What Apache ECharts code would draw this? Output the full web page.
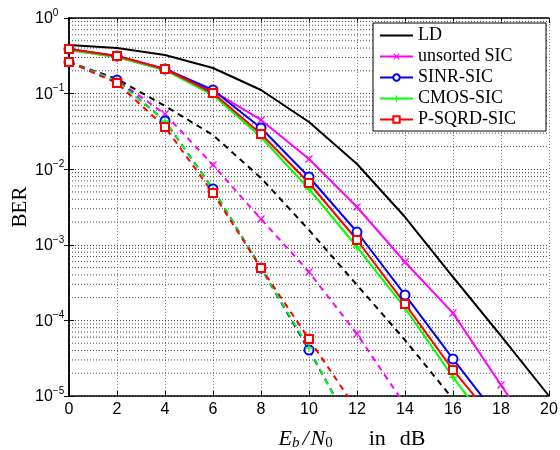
<!DOCTYPE html>
<html><head><meta charset="utf-8">
<script src="https://cdn.jsdelivr.net/npm/echarts@6/dist/echarts.min.js"></script>
<style>html,body{margin:0;padding:0;background:#fff}#c{width:560px;height:450px}</style>
</head><body><div id="c"></div>
<script>
// ---- data ----
const ebn0 = [0, 2, 4, 6, 8, 10, 12, 14, 16, 18, 20];
const xTicks = [0, 2, 4, 6, 8, 10, 12, 14, 16, 18, 20];
const yDecades = [1e-5, 1e-4, 1e-3, 1e-2, 1e-1, 1];
const legendNames = ['LD', 'unsorted SIC', 'SINR-SIC', 'CMOS-SIC', 'P-SQRD-SIC'];
// solid curves
const ldSolid       = [0.439, 0.401, 0.324, 0.218, 0.1116, 0.0421, 0.01172, 0.00233, 3.75e-4, 6.22e-5, 1.0e-5];
const unsortedSolid = [0.3775, 0.305, 0.205, 0.1082, 0.0448, 0.01365, 0.00316, 5.92e-4, 1.25e-4, 1.40e-5, 1.56e-6];
const sinrSolid     = [0.389, 0.314, 0.2115, 0.1116, 0.0351, 0.00788, 0.001476, 2.17e-4, 3.09e-5, 4.67e-6];
const cmosSolid     = [0.3775, 0.305, 0.205, 0.0958, 0.0267, 0.00547, 9.35e-4, 1.46e-4, 1.78e-5, 2.54e-6];
const psqrdSolid    = [0.389, 0.314, 0.2115, 0.1019, 0.0292, 0.00657, 0.001157, 1.65e-4, 2.21e-5, 3.77e-6];
// dashed curves
const ldDashed       = [0.262, 0.156, 0.0686, 0.0283, 0.00765, 0.00157, 2.94e-4, 5.5e-5, 9.1e-6];
const unsortedDashed = [0.262, 0.151, 0.0537, 0.01137, 0.00219, 4.37e-4, 6.6e-5, 7.6e-6];
const sinrDashed     = [0.262, 0.151, 0.0434, 0.00547, 4.93e-4, 4.06e-5, 2.87e-6];
const cmosDashed     = [0.262, 0.147, 0.0434, 0.00547, 4.93e-4, 4.31e-5, 2.6e-6];
const psqrdDashed    = [0.262, 0.138, 0.0361, 0.00484, 4.93e-4, 5.68e-5, 6.5e-6];

const minorY = [];
yDecades.slice(0, 5).forEach(d => { for (let k = 2; k <= 9; k++) minorY.push(+(k * d).toPrecision(3)); });

const pairs = arr => arr.map((v, i) => [ebn0[i], v]);
const X_SYM = 'path://M0,1.2L1.2,0L5,3.8L8.8,0L10,1.2L6.2,5L10,8.8L8.8,10L5,6.2L1.2,10L0,8.8L3.8,5Z';
const PLUS_SYM = 'path://M4.2,0H5.8V4.2H10V5.8H5.8V10H4.2V5.8H0V4.2H4.2Z';

const styles = [
  {name: 'LD', color: '#000000', symbol: 'circle', size: 0, bw: 0, show: false},
  {name: 'unsorted SIC', color: '#ff00ff', symbol: X_SYM, size: 8, bw: 0, show: true},
  {name: 'SINR-SIC', color: '#0000ff', symbol: 'emptyCircle', size: 9, bw: 2, show: true},
  {name: 'CMOS-SIC', color: '#00ff00', symbol: PLUS_SYM, size: 8, bw: 0, show: true},
  {name: 'P-SQRD-SIC', color: '#ff0000', symbol: 'emptyRect', size: 8, bw: 2, show: true}
];
const solidData = [ldSolid, unsortedSolid, sinrSolid, cmosSolid, psqrdSolid];
const dashedData = [ldDashed, unsortedDashed, sinrDashed, cmosDashed, psqrdDashed];

function mk(st, data, dashed) {
  return {
    name: dashed ? st.name + ' (dashed)' : st.name,
    type: 'line',
    data: pairs(data),
    xAxisIndex: 0, yAxisIndex: 0,
    symbol: st.symbol, symbolSize: st.size,
    showSymbol: st.show,
    clip: true,
    lineStyle: {color: st.color, width: 2, type: dashed ? [6, 5] : 'solid'},
    itemStyle: {color: st.color, borderColor: st.color, borderWidth: st.bw},
    emphasis: {disabled: true},
    z: 3
  };
}
const series = [];
// minor horizontal grid lines of the log axis, drawn through the axes
minorY.forEach(v => series.push({
  name: 'minor-grid', type: 'line', data: [[0, v], [20, v]],
  symbol: 'none', silent: true, z: 1,
  lineStyle: {color: '#444', width: 1, type: [1, 2]},
  emphasis: {disabled: true}, tooltip: {show: false}
}));
styles.forEach((st, i) => series.push(mk(st, dashedData[i], true)));
styles.forEach((st, i) => series.push(mk(st, solidData[i], false)));

const supFmt = v => {
  const e = Math.round(Math.log10(v));
  return '{b|10}{s|' + (e < 0 ? '\u2212' + (-e) : e) + '}';
};

const serif = 'Liberation Serif';
const chart = echarts.init(document.getElementById('c'), null, {renderer: 'canvas'});
chart.setOption({
  animation: false,
  backgroundColor: '#fff',
  grid: {left: 69, right: 11, top: 18, bottom: 54, containLabel: false, outerBoundsMode: 'none'},
  legend: {
    data: legendNames.map((n, i) => i === 0 ? {name: n, itemStyle: {opacity: 0}} : n),
    left: 373, top: 23,
    orient: 'vertical',
    backgroundColor: '#fff', borderColor: '#000', borderWidth: 1,
    padding: [2, 30, 1, 6],
    itemWidth: 33, itemHeight: 8, itemGap: 0,
    textStyle: {fontFamily: serif, fontSize: 18, color: '#000', lineHeight: 21},
    selectedMode: false
  },
  xAxis: [{
    type: 'value', min: 0, max: 20, interval: 2,
    name: '{i|E}{isub|b}{sl|/}{i|N}{sub|0}{r1|in}{r2|dB}',
    nameLocation: 'middle', nameGap: 31, nameMoveOverlap: false,
    nameTextStyle: {
      padding: [0, 0, 0, 86],
      rich: {
        i: {fontFamily: serif, fontStyle: 'italic', fontSize: 22, color: '#000'},
        sl: {fontFamily: serif, fontStyle: 'italic', fontSize: 22, color: '#000', padding: [0, 2, 0, 3]},
        isub: {fontFamily: serif, fontStyle: 'italic', fontSize: 15, color: '#000', padding: [9, 0, 0, 0]},
        sub: {fontFamily: serif, fontSize: 15, color: '#000', padding: [9, 0, 0, 0]},
        r1: {fontFamily: serif, fontSize: 22, color: '#000', padding: [0, 0, 0, 36]},
        r2: {fontFamily: serif, fontSize: 22, color: '#000', padding: [0, 0, 0, 14]}
      }
    },
    axisLine: {show: true, lineStyle: {color: '#000', width: 1.5}},
    axisTick: {show: true, inside: true, length: 5, lineStyle: {color: '#000', width: 1}},
    axisLabel: {fontFamily: 'Liberation Sans', fontSize: 16, color: '#000', margin: 6,
      formatter: v => xTicks.includes(v) ? String(v) : ''},
    splitLine: {show: true, lineStyle: {color: '#888', width: 1, type: [1, 2]}}
  }, {
    type: 'value', min: 0, max: 20, interval: 2, position: 'top',
    axisLine: {show: true, lineStyle: {color: '#000', width: 1.5}},
    axisTick: {show: true, inside: true, length: 5, lineStyle: {color: '#000', width: 1}},
    axisLabel: {show: false}, splitLine: {show: false}
  }],
  yAxis: [{
    type: 'log', logBase: 10, min: 1e-5, max: 1,
    name: 'BER', nameLocation: 'middle', nameGap: 38, nameMoveOverlap: false,
    nameTextStyle: {fontFamily: serif, fontSize: 21, color: '#000'},
    axisLine: {show: true, lineStyle: {color: '#000', width: 1.5}},
    axisTick: {show: true, inside: true, length: 5, lineStyle: {color: '#000', width: 1}},
    axisLabel: {
      align: 'left', margin: 34,
      formatter: supFmt,
      rich: {
        b: {fontFamily: 'Liberation Sans', fontSize: 16, color: '#000', padding: [2, 0, 0, 0]},
        s: {fontFamily: 'Liberation Sans', fontSize: 10, color: '#000', padding: [0, 0, 10, 0]}
      }
    },
    splitLine: {show: true, lineStyle: {color: '#444', width: 1, type: [1, 2]}}
  }, {
    type: 'log', logBase: 10, min: 1e-5, max: 1, position: 'right',
    axisLine: {show: true, lineStyle: {color: '#000', width: 1.5}},
    axisTick: {show: true, inside: true, length: 5, lineStyle: {color: '#000', width: 1}},
    axisLabel: {show: false}, splitLine: {show: false}
  }],
  series: series
});
</script>
</body></html>
